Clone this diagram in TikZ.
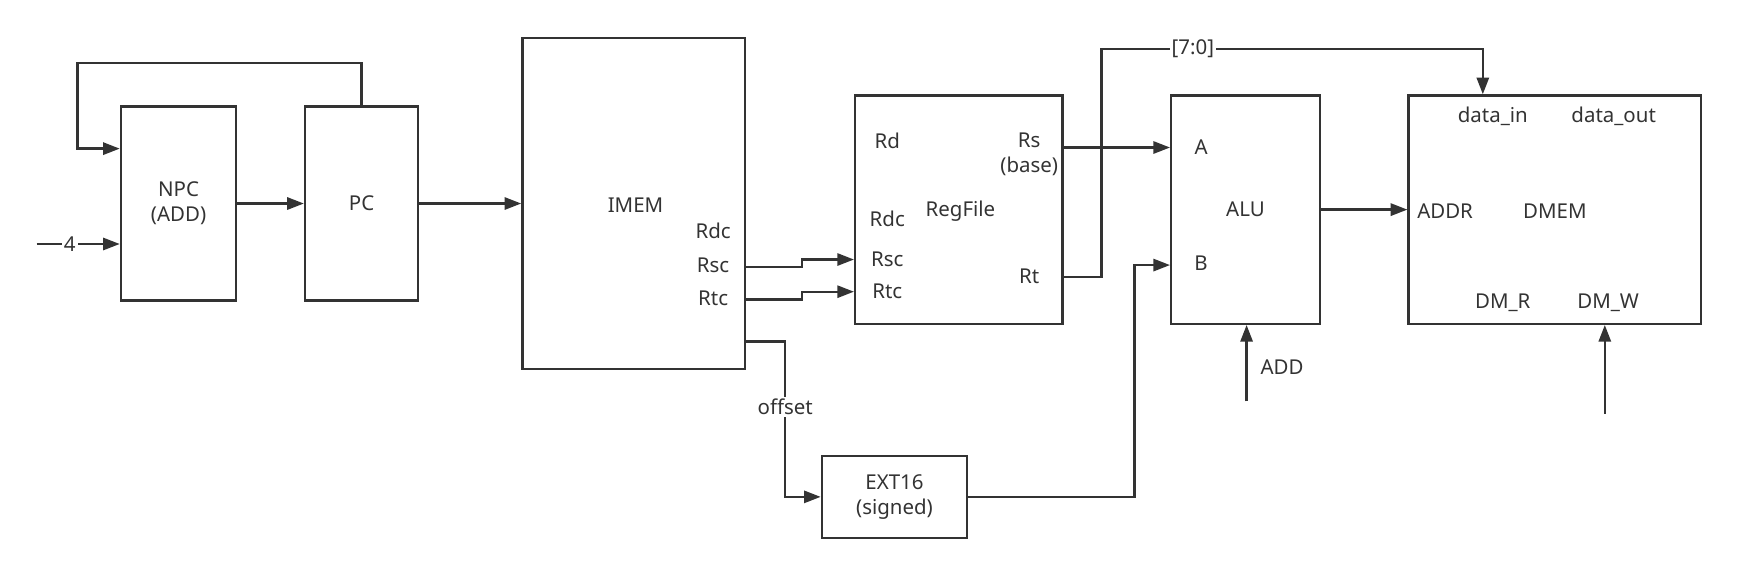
\documentclass[tikz,border=0pt]{standalone}
\usepackage{fontspec}
\setmainfont{Noto Sans}
\usetikzlibrary{arrows.meta,positioning,calc}
\definecolor{ink}{HTML}{333333}
\tikzset{
  blk/.style={draw=ink, line width=1.2pt, align=center, inner sep=0pt, text=ink, font=\fontsize{10.5}{13}\selectfont},
  port/.style={inner sep=1pt, align=center, text=ink, font=\fontsize{10.5}{13}\selectfont},
  arr/.style={-{Triangle[length=3mm,width=2.2mm]}, line width=1.2pt, draw=ink},
  wire/.style={line width=1.2pt, draw=ink},
  lbl/.style={fill=white, inner sep=1pt, text=ink, font=\fontsize{10.5}{13}\selectfont}
}
\begin{document}
\begin{tikzpicture}[x=0.02cm, y=-0.02cm]
  \useasboundingbox (0,0) rectangle (1568,518);
  % blocks
  \node[blk, minimum width=2.08cm, minimum height=3.5cm] (npc) at (161,183.5) {NPC\\(ADD)};
  \node[blk, minimum width=2.04cm, minimum height=3.5cm] (pc) at (326,183.5) {PC};
  \node[blk, minimum width=4.02cm, minimum height=5.98cm] (imem) at (571.5,183.5) {};
  \node[blk, minimum width=3.74cm, minimum height=4.12cm] (rf) at (864.5,189) {};
  \node[blk, minimum width=2.68cm, minimum height=4.12cm] (alu) at (1123,189) {ALU};
  \node[blk, minimum width=5.28cm, minimum height=4.12cm] (dmem) at (1402,189) {};
  \node[blk, minimum width=2.62cm, minimum height=1.48cm] (ext) at (806.5,448) {EXT16\\(signed)};
  % ports
  \node[port] (imemname) at (573,185) {IMEM};
  \node[port] (rdc) at (643,208) {Rdc};
  \node[port] (rsc) at (643,239) {Rsc};
  \node[port] (rtc) at (643,269) {Rtc};
  \node[port] (rd) at (800,127) {Rd};
  \node[port] (rdc2) at (800,197) {Rdc};
  \node[port] (rsc2) at (800,234) {Rsc};
  \node[port] (rtc2) at (800,263) {Rtc};
  \node[port] (rfname) at (866,190) {RegFile};
  \node[port] (rs) at (928,139) {Rs\\(base)};
  \node[port] (rt) at (928,249) {Rt};
  \node[port] (a) at (1083,133) {A};
  \node[port] (b) at (1083,237) {B};
  \node[port] (din) at (1346,105) {data\_in};
  \node[port] (dout) at (1455,105) {data\_out};
  \node[port] (addr) at (1303,190) {ADDR};
  \node[port] (dmname) at (1402,190) {DMEM};
  \node[port] (dmr) at (1355,273) {DM\_R};
  \node[port] (dmw) at (1450,273) {DM\_W};
  \node[port] (aluop) at (1156,331) {ADD};
  % free ends
  \coordinate (fb) at (70,57);
  \coordinate (four) at (33,220);
  \coordinate (memin) at (1337,44);
  \coordinate (opin) at (1124,362);
  \coordinate (dmwin) at (1447,373);
  % connectors
  \draw[arr] (pc.north) |- (fb) |- ([yshift=0.99cm]npc.west);
  \draw[arr] (four) -- node[lbl, pos=0.4]{4} (four -| npc.west);
  \draw[arr] (npc) -- (pc);
  \draw[arr] (pc) -- (imem);
  \draw[arr] (imem.east |- 0,241) -- ++(50,0) |- (rf.west |- rsc2);
  \draw[arr] (imem.east |- 0,270) -- ++(50,0) |- (rf.west |- rtc2);
  \draw[arr] ([yshift=-2.49cm]imem.east) -- ++(35,0) |- node[lbl, pos=0.21]{offset} (ext.west);
  \draw[arr] (rf.east |- a) -- (alu.west |- a);
  \draw[arr] (rf.east |- 0,250) -- ++(34,0) |- node[lbl, pos=0.62]{[7:0]} (memin) -- (memin |- dmem.north);
  \draw[arr] (ext.east) -- ++(150,0) |- (alu.west |- 0,239);
  \draw[arr] (alu) -- (dmem);
  \draw[arr] (opin) -- (opin |- alu.south);
  \draw[arr] (dmwin) -- (dmwin |- dmem.south);
\end{tikzpicture}
\end{document}
